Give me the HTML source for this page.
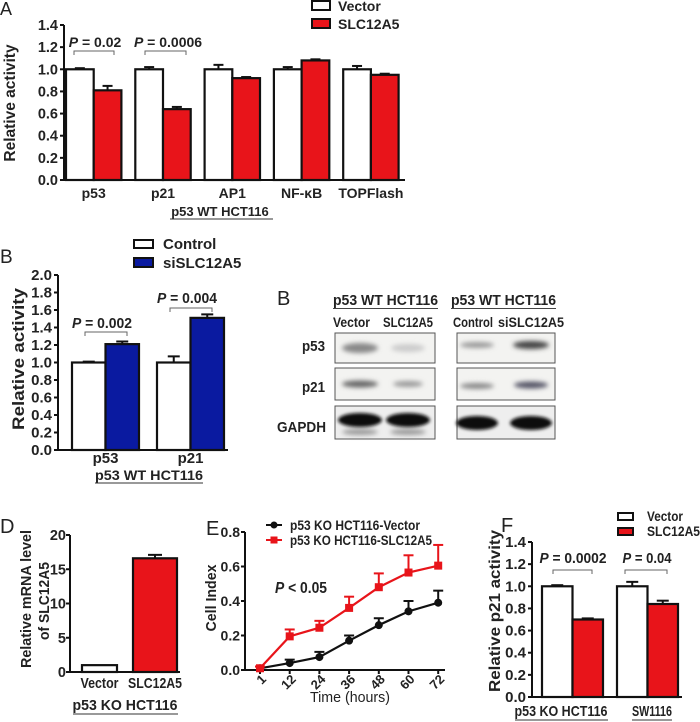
<!DOCTYPE html>
<html><head><meta charset="utf-8">
<style>
html,body{margin:0;padding:0;background:#fff;}
svg{display:block;font-family:"Liberation Sans",Arial,sans-serif;}
text{font-weight:bold;fill:#222;}
</style></head>
<body>
<svg id="fig" width="700" height="722" viewBox="0 0 700 722" xmlns="http://www.w3.org/2000/svg">
<defs>
<filter id="blur" x="-20%" y="-50%" width="140%" height="200%"><feGaussianBlur stdDeviation="2.5"/></filter>
<filter id="blur2" x="-20%" y="-50%" width="140%" height="200%"><feGaussianBlur stdDeviation="1.5"/></filter>
</defs>
<g>
<text x="277" y="305" font-size="20" style="font-weight:normal">B</text>
<text x="333" y="305" font-size="15" textLength="105" lengthAdjust="spacingAndGlyphs">p53 WT HCT116</text>
<line x1="333" y1="308.5" x2="438" y2="308.5" stroke="#444"/>
<text x="451" y="305" font-size="15" textLength="105" lengthAdjust="spacingAndGlyphs">p53 WT HCT116</text>
<line x1="451" y1="308.5" x2="556" y2="308.5" stroke="#444"/>
<text x="333" y="327" font-size="14" textLength="37" lengthAdjust="spacingAndGlyphs">Vector</text>
<text x="383" y="327" font-size="14" textLength="50" lengthAdjust="spacingAndGlyphs">SLC12A5</text>
<text x="453" y="327" font-size="14" textLength="40" lengthAdjust="spacingAndGlyphs">Control</text>
<text x="498" y="327" font-size="14" textLength="66" lengthAdjust="spacingAndGlyphs">siSLC12A5</text>
<text x="302" y="351" font-size="15" textLength="23" lengthAdjust="spacingAndGlyphs">p53</text>
<text x="302" y="392" font-size="15" textLength="23" lengthAdjust="spacingAndGlyphs">p21</text>
<text x="277" y="432" font-size="15" textLength="49" lengthAdjust="spacingAndGlyphs">GAPDH</text>
<rect x="335" y="333" width="100" height="30" fill="#f3f3f1" stroke="#555"/>
<rect x="335" y="368" width="100" height="32" fill="#f3f3f1" stroke="#555"/>
<rect x="335" y="406" width="100" height="33" fill="#eee" stroke="#555"/>
<rect x="457" y="333" width="98" height="30" fill="#f3f3f1" stroke="#555"/>
<rect x="457" y="368" width="98" height="32" fill="#f3f3f1" stroke="#555"/>
<rect x="457" y="406" width="98" height="33" fill="#eee" stroke="#555"/>
<g filter="url(#blur)">
<ellipse cx="360" cy="348" rx="18" ry="5" fill="#888"/>
<ellipse cx="408" cy="348" rx="17" ry="4" fill="#ccc"/>
<ellipse cx="477" cy="345" rx="17" ry="3" fill="#999"/>
<ellipse cx="531" cy="345" rx="18" ry="4" fill="#444"/>
<ellipse cx="360" cy="384" rx="18" ry="3.5" fill="#666"/>
<ellipse cx="408" cy="384" rx="15" ry="3" fill="#999"/>
<ellipse cx="477" cy="386" rx="17" ry="3" fill="#888"/>
<ellipse cx="531" cy="385" rx="17" ry="3.5" fill="#556"/>
<ellipse cx="360" cy="432" rx="18" ry="3" fill="#999"/>
<ellipse cx="408" cy="432" rx="18" ry="3" fill="#999"/>
</g>
<g filter="url(#blur2)">
<ellipse cx="360" cy="420" rx="22" ry="7" fill="#111"/>
<ellipse cx="408" cy="420" rx="22" ry="7" fill="#111"/>
<ellipse cx="477" cy="423" rx="21" ry="7" fill="#111"/>
<ellipse cx="531" cy="423" rx="21" ry="7" fill="#111"/>
</g>
</g>
</svg>
<script>
// ---------- data ----------
const aCategories = ["p53","p21","AP1","NF-\u03baB","TOPFlash"];
const aVector = [1.0,1.0,1.0,1.0,1.0];
const aVectorErr = [0.01,0.02,0.04,0.02,0.03];
const aSlc = [0.81,0.64,0.92,1.08,0.95];
const aSlcErr = [0.04,0.02,0.01,0.01,0.01];
const aTicks = ["0.0","0.2","0.4","0.6","0.8","1.0","1.2","1.4"];

const bCategories = ["p53","p21"];
const bControl = [1.0,1.0];
const bControlErr = [0.01,0.07];
const bSi = [1.21,1.51];
const bSiErr = [0.03,0.04];
const bTicks = ["0.0","0.2","0.4","0.6","0.8","1.0","1.2","1.4","1.6","1.8","2.0"];

const dCategories = ["Vector","SLC12A5"];
const dValues = [1.0,16.6];
const dErr = [0,0.5];
const dTicks = ["0","5","10","15","20"];

const eTimes = ["1","12","24","36","48","60","72"];
const eVector = [0.01,0.04,0.075,0.17,0.26,0.34,0.39];
const eVectorErr = [0.01,0.02,0.03,0.03,0.04,0.06,0.07];
const eSlc = [0.01,0.195,0.245,0.36,0.48,0.565,0.605];
const eSlcErr = [0.01,0.04,0.04,0.065,0.08,0.1,0.12];
const eTicks = ["0.0","0.2","0.4","0.6","0.8"];

const fCategories = ["p53 KO HCT116","SW1116"];
const fVector = [1.0,1.0];
const fVectorErr = [0.01,0.04];
const fSlc = [0.70,0.84];
const fSlcErr = [0.01,0.03];
const fTicks = ["0.0","0.2","0.4","0.6","0.8","1.0","1.2","1.4"];

// ---------- helpers ----------
const NS="http://www.w3.org/2000/svg";
const svg=document.getElementById('fig');
function mk(tag,attrs,parent){const e=document.createElementNS(NS,tag);for(const k in attrs)e.setAttribute(k,attrs[k]);(parent||svg).appendChild(e);return e;}
function txt(x,y,s,size,extra,name,tl){const t=mk('text',Object.assign({x:x,y:y,'font-size':size},extra||{}));t.textContent=s;
if(tl){t.setAttribute('textLength',tl);t.setAttribute('lengthAdjust','spacingAndGlyphs');}


return t;}
function ln(x1,y1,x2,y2,w,c,name){const l=mk('line',{x1:x1,y1:y1,x2:x2,y2:y2,stroke:c||'#111','stroke-width':w||2});


return l;}
function yAxis(x,y0,y1,tickLabels,max,fs,name,off){
  ln(x,y0+1,x,y1,2,'#111',name+'-y-axis');
  tickLabels.forEach((lab,i)=>{const v=max*i/(tickLabels.length-1);const y=y0-(y0-y1)*v/max;
    ln(x-4,y,x,y,2,'#111',name+'-y-tick');
    txt(x-(off||6),y+5,lab,fs,{'text-anchor':'end'},name+'-y-tick-label');});
}
function bar(x,w,yv,y0,fill,name){const r=mk('rect',{x:x,y:yv,width:w,height:y0-yv,fill:fill,stroke:'#111','stroke-width':2.2});


return r;}
function err(xc,yv,ye,hw,name,col){ln(xc,yv,xc,ye,2,col||'#111',name);ln(xc-hw,ye,xc+hw,ye,2,col||'#111',name);}
function bracket(x1,x2,y,name){const p=mk('path',{d:`M${x1} ${y+4}V${y}H${x2}V${y+4}`,fill:'none',stroke:'#666','stroke-width':1});

}
function ptext(x,y,val,fs,name,tl){const t=mk('text',{x:x,y:y,'font-size':fs,'text-anchor':'middle'});
if(tl){t.setAttribute('textLength',tl);t.setAttribute('lengthAdjust','spacingAndGlyphs');}
const a=mk('tspan',{'font-style':'italic'},t);a.textContent='P';const b=mk('tspan',{},t);b.textContent=val;

}
function legendBox(x,y,w,h,fill,label,fs,name,tl,gap){const r=mk('rect',{x:x,y:y,width:w,height:h,fill:fill,stroke:'#111','stroke-width':2});


txt(x+w+(gap||8),y+h+1,label,fs,{},name+'-label',tl);}

// ---------- Panel A ----------
(function(){
const X0=64,Y0=180,Y1=25,MAX=1.4,gap=69.3,bw=27.7,start=66;
const ys=v=>Y0-(Y0-Y1)*v/MAX;
txt(0,15,'A',18,{style:'font-weight:normal'},'panel-label-a');
aCategories.forEach((c,i)=>{const x=start+i*gap;
  bar(x,bw,ys(aVector[i]),Y0,'#fff','bar-a-vector-'+i);
  err(x+bw/2,ys(aVector[i]),ys(aVector[i]+aVectorErr[i]),5,'err-a-vector');
  bar(x+bw,bw,ys(aSlc[i]),Y0,'#e8141a','bar-a-slc12a5-'+i);
  err(x+bw*1.5,ys(aSlc[i]),ys(aSlc[i]+aSlcErr[i]),5,'err-a-slc');
  txt(x+bw,198,c,14,{'text-anchor':'middle'},'x-label-a');
});
yAxis(X0,Y0,Y1,aTicks,MAX,14.5,'a');
ln(X0,Y0,405,Y0,2,'#111','a-x-axis');
txt(15,103,'Relative activity',15.5,{transform:'rotate(-90 15 103)','text-anchor':'middle'},'y-title-a');
txt(220,216,'p53 WT HCT116',13,{'text-anchor':'middle'},'group-label-a');
ln(170,219,273,219,1,'#333','group-underline-a');
ptext(95,47,' = 0.02',14,'p-value-a1');ptext(168,47,' = 0.0006',14,'p-value-a2');
bracket(74,114,51,'bracket-a1');bracket(145,186,51,'bracket-a2');
legendBox(312,1,18,9,'#fff','Vector',14,'legend-a-vector');
legendBox(312,19,18,9,'#e8141a','SLC12A5',14,'legend-a-slc12a5');
})();

// ---------- Panel B ----------
(function(){
const X0=58,Y0=450,Y1=275,MAX=2.0,gap=85,bw=33.5,start=72;
const ys=v=>Y0-(Y0-Y1)*v/MAX;
txt(0,263,'B',19,{style:'font-weight:normal'},'panel-label-b');
bCategories.forEach((c,i)=>{const x=start+i*gap;
  bar(x,bw,ys(bControl[i]),Y0,'#fff','bar-b-control-'+i);
  err(x+bw/2,ys(bControl[i]),ys(bControl[i]+bControlErr[i]),6,'err-b-control');
  bar(x+bw,bw,ys(bSi[i]),Y0,'#0a1aa0','bar-b-si-'+i);
  err(x+bw*1.5,ys(bSi[i]),ys(bSi[i]+bSiErr[i]),6,'err-b-si');
  txt(x+bw,463,c,15,{'text-anchor':'middle'},'x-label-b');
});
yAxis(X0,Y0,Y1,bTicks,MAX,15,'b');
ln(X0,Y0,228,Y0,2,'#111','b-x-axis');
txt(24,359,'Relative activity',17,{transform:'rotate(-90 24 359)','text-anchor':'middle'},'y-title-b',142);
txt(149,480,'p53 WT HCT116',14,{'text-anchor':'middle'},'group-label-b',108);
ln(95,483,203,483,1,'#333','group-underline-b');
ptext(102,328,' = 0.002',15,'p-value-b1',60);ptext(187,303,' = 0.004',15,'p-value-b2',60);
bracket(85,127,332,'bracket-b1');bracket(170,212,308,'bracket-b2');
legendBox(134,240,19,8,'#fff','Control',15,'legend-b-control',null,10);
legendBox(134,258,19,9,'#0a1aa0','siSLC12A5',15,'legend-b-si',null,10);
})();

// ---------- Panel D ----------
(function(){
const X0=70,Y0=672,Y1=535,MAX=20;
const ys=v=>Y0-(Y0-Y1)*v/MAX;
txt(0,533,'D',20,{style:'font-weight:normal'},'panel-label-d');
const xsD=[82,133], widths=[35,44];
dCategories.forEach((c,i)=>{const x=xsD[i],w=widths[i];
  bar(x,w,ys(dValues[i]),Y0,i?'#e8141a':'#fff','bar-d-'+i);
  if(dErr[i])err(x+w/2,ys(dValues[i]),ys(dValues[i]+dErr[i]),7,'err-d');
  txt(x+w/2,688,c,15,{'text-anchor':'middle'},'x-label-d',i?54:38);
});
yAxis(X0,Y0,Y1,dTicks,MAX,14.5,'d',4);
ln(X0,Y0,180,Y0,2,'#111','d-x-axis');
txt(31,599,'Relative mRNA level',15,{transform:'rotate(-90 31 599)','text-anchor':'middle'},'y-title-d-line1',138);
txt(49,601,'of SLC12A5',15,{transform:'rotate(-90 49 601)','text-anchor':'middle'},'y-title-d-line2',78);
txt(125,710,'p53 KO HCT116',15,{'text-anchor':'middle'},'group-label-d',105);
ln(73,714,178,714,1,'#333','group-underline-d');
})();

// ---------- Panel E ----------
(function(){
const X0=245,Y0=670,Y1=532,MAX=0.8,step=29.7,start=260;
const ys=v=>Y0-(Y0-Y1)*v/MAX, xs=i=>start+i*step;
txt(206,535,'E',20,{style:'font-weight:normal'},'panel-label-e');
yAxis(X0,Y0,Y1,eTicks,MAX,14,'e',5);
ln(X0,Y0,445,Y0,2,'#111','e-x-axis');
eTimes.forEach((t,i)=>{ln(xs(i),Y0,xs(i),Y0+4,2,'#111','e-x-tick');
  txt(xs(i)+7,Y0+10,t,13,{transform:`rotate(-45 ${xs(i)+7} ${Y0+10})`,'text-anchor':'end'},'x-tick-label-e');});
function series(vals,errs,col,name,square){
  vals.forEach((v,i)=>err(xs(i),ys(v),ys(v+errs[i]),5,'err-e-'+name,col));
  const p=mk('polyline',{points:vals.map((v,i)=>xs(i)+','+ys(v)).join(' '),fill:'none',stroke:col,'stroke-width':2.2});
  
  
  vals.forEach((v,i)=>{const m=square?mk('rect',{x:xs(i)-4,y:ys(v)-4,width:8,height:8,fill:col}):mk('circle',{cx:xs(i),cy:ys(v),r:4,fill:col});
    
    });
}
series(eVector,eVectorErr,'#111','vector',false);
series(eSlc,eSlcErr,'#e8141a','slc12a5',true);
txt(350,702,'Time (hours)',15,{'text-anchor':'middle',style:'font-weight:normal'},'x-title-e',80);
txt(216,598,'Cell Index',15,{transform:'rotate(-90 216 598)','text-anchor':'middle'},'y-title-e',67);
ptext(301,593,' < 0.05',16,'p-value-e',52);
ln(266,525,282,525,2,'#111','legend-e-vector-line');mk('circle',{cx:274,cy:525,r:3.5,fill:'#111'});
txt(290,530,'p53 KO HCT116-Vector',14,{},'legend-e-vector-label',130);
ln(266,540,282,540,2,'#e8141a','legend-e-slc-line');mk('rect',{x:270.5,y:536.5,width:7,height:7,fill:'#e8141a'});
txt(290,545,'p53 KO HCT116-SLC12A5',14,{},'legend-e-slc-label',142);
})();

// ---------- Panel F ----------
(function(){
const X0=532,Y0=697,Y1=542,MAX=1.4,gap=75,bw=30.5,start=542;
const ys=v=>Y0-(Y0-Y1)*v/MAX;
txt(501,532,'F',20,{style:'font-weight:normal'},'panel-label-f');
fCategories.forEach((c,i)=>{const x=start+i*gap;
  bar(x,bw,ys(fVector[i]),Y0,'#fff','bar-f-vector-'+i);
  err(x+bw/2,ys(fVector[i]),ys(fVector[i]+fVectorErr[i]),6,'err-f-vector');
  bar(x+bw,bw,ys(fSlc[i]),Y0,'#e8141a','bar-f-slc-'+i);
  err(x+bw*1.5,ys(fSlc[i]),ys(fSlc[i]+fSlcErr[i]),6,'err-f-slc');
});
txt(561,716,fCategories[0],15,{'text-anchor':'middle'},'group-label-f',93);
txt(652,716,fCategories[1],15,{'text-anchor':'middle'},'group-label-f',40);
ln(515,720,608,720,1,'#333','group-underline-f1');ln(632,720,672,720,1,'#333','group-underline-f2');
yAxis(X0,Y0,Y1,fTicks,MAX,15,'f');
ln(X0,Y0,682,Y0,2,'#111','f-x-axis');
txt(500,611,'Relative p21 activity',16,{transform:'rotate(-90 500 611)','text-anchor':'middle'},'y-title-f',162);
ptext(573,563,' = 0.0002',15,'p-value-f1',67);ptext(647,563,' = 0.04',15,'p-value-f2',49);
bracket(553,592,570,'bracket-f1');bracket(625,667,570,'bracket-f2');
legendBox(618,513,15,7,'#fff','Vector',14,'legend-f-vector',36,14);
legendBox(618,528,15,7,'#e8141a','SLC12A5',14,'legend-f-slc12a5',53,14);
})();
</script>
</body></html>
